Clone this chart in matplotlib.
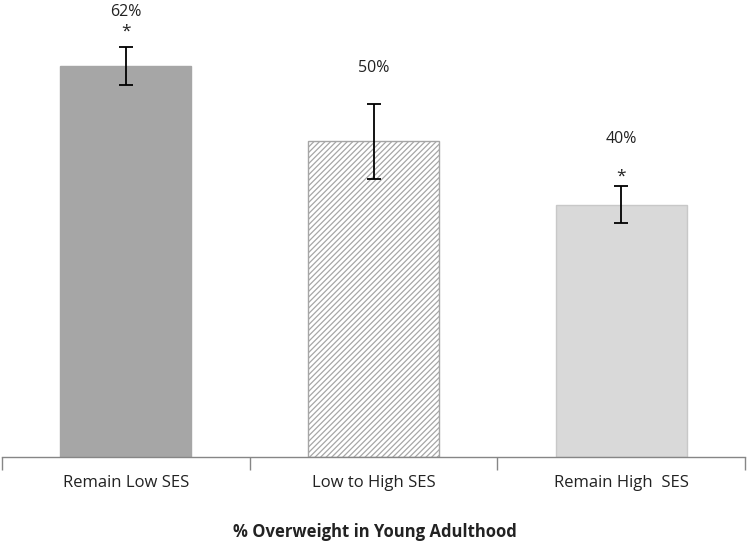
import matplotlib.pyplot as plt
import numpy as np

plt.rcParams["font.family"] = ["Open Sans", "DejaVu Sans"]
plt.rcParams["hatch.linewidth"] = 0.9

# data
categories = ["Remain Low SES", "Low to High SES", "Remain High  SES"]
values = [62, 50, 40]
errors = [3, 6, 3]
value_labels = ["62%", "50%", "40%"]
label_heights = [70.5, 61.6, 50.4]
stars = [True, False, True]
star_heights = [67.4, None, 44.4]

colors = ["#A6A6A6", "white", "#D9D9D9"]
edges = ["#A6A6A6", "#A6A6A6", "#C8C8C8"]
hatches = [None, "//////", None]

fig = plt.figure(figsize=(7.5, 5.47), dpi=100)
ax = fig.add_axes([2 / 750, 1 - 457 / 547, 743 / 750, 457 / 547])

x = np.arange(len(categories))
for i in range(len(categories)):
    ax.bar(x[i], values[i], width=0.53, color=colors[i], edgecolor=edges[i],
           hatch=hatches[i], linewidth=1.0, zorder=2)

ax.errorbar(x, values, yerr=errors, fmt="none", ecolor="black",
            elinewidth=1.3, capsize=5, capthick=1.3, zorder=3)

for i in range(len(categories)):
    ax.text(x[i], label_heights[i], value_labels[i], ha="center", va="center",
            fontsize=11.5, color="#222222")
    if stars[i]:
        ax.text(x[i], star_heights[i], "*", ha="center", va="center",
                fontsize=12.5, color="#222222")

ax.set_xlim(-0.5, 2.5)
ax.set_ylim(0, 72.4)

for s in ["top", "right", "left"]:
    ax.spines[s].set_visible(False)
ax.spines["bottom"].set_color("#868686")
ax.spines["bottom"].set_linewidth(1.0)
ax.set_yticks([])

ax.set_xticks([-0.5, 0.5, 1.5, 2.5])
ax.set_xticklabels([])
ax.tick_params(axis="x", which="major", direction="out", length=9,
               color="#868686", width=1.0)
ax.set_xticks(x, minor=True)
ax.set_xticklabels(categories, minor=True, fontsize=12, color="#222222")
ax.tick_params(axis="x", which="minor", length=0, pad=13)

fig.text(0.5, 1 - 532 / 547, "% Overweight in Young Adulthood", ha="center",
         va="center", fontsize=12, fontweight="bold", color="#222222")

fig.savefig("out.png", dpi=100)
